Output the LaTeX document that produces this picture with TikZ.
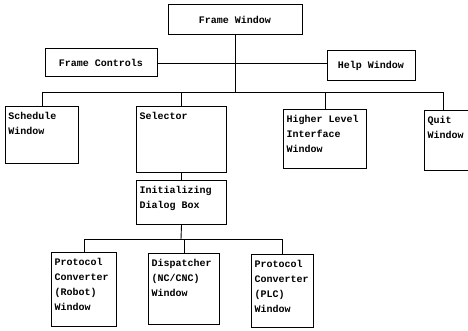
\documentclass[tikz,border=0pt]{standalone}
\usepackage{fontspec}
\setmonofont{Liberation Mono}
\usetikzlibrary{arrows,shapes}
\newcommand{\winfont}{\ttfamily\bfseries\fontsize{10}{15}\selectfont}
\newcommand{\wintext}[3]{\parbox[c][#2pt][t]{#1pt}{\raggedright #3}}
\tikzstyle{win}=[draw,line width=1pt,anchor=north west,inner xsep=3pt,inner ysep=6pt,font=\winfont]
\tikzstyle{head}=[draw,line width=1pt,font=\winfont,minimum height=30pt]
\tikzstyle{link} = [draw,line width=0.9pt,-]

\begin{document}
\begin{tikzpicture}[x=1pt,y=-1pt]
    \useasboundingbox (0,0) rectangle (468,331);
    \clip (0,0) rectangle (468,331);
    % First we draw the top windows
    \node[head,minimum width=134pt] (frame) at (235,20) {Frame Window};
    \node[head,minimum width=112pt,minimum height=28pt] (ctrl) at (101,63) {Frame Controls};
    \node[head,minimum width=88pt] (help) at (371,66) {Help Window};
    % Then the windows below them
    \node[win] (sched) at (5,106) {\wintext{67}{45}{Schedule\\Window}};
    \node[win] (sel) at (136,106) {\wintext{84}{54}{Selector}};
    \node[win] (higher) at (283,109) {\wintext{77}{47}{Higher Level\\Interface\\Window}};
    \node[win] (quit) at (424,110) {\wintext{64}{48}{Quit\\Window}};
    \node[win] (init) at (136,180) {\wintext{84}{32}{Initializing\\Dialog Box}};
    \node[win] (robot) at (51,252) {\wintext{59}{62}{Protocol\\Converter\\(Robot)\\Window}};
    \node[win] (disp) at (148,253) {\wintext{65}{59}{Dispatcher\\(NC/CNC)\\Window}};
    \node[win] (plc) at (251,254) {\wintext{56}{61}{Protocol\\Converter\\(PLC)\\Window}};
    \coordinate (bus) at (235,92);
    \coordinate (lowbus) at (181,239);
    % Connect windows with lines
    \path[link] (frame.south) -- (bus);
    \path[link] (ctrl.east) -- (ctrl.east -| help.west);
    \foreach \dest in {sched, sel, higher}
        \path[link] (bus) -| (\dest.north);
    \path[link] (bus) -| ([xshift=19pt]quit.north west);
    \path[link] (sel.south) -- (init.north);
    \path[link] (init.south) -- (lowbus);
    \foreach \dest in {robot, disp, plc}
        \path[link] (lowbus) -| (\dest.north);
\end{tikzpicture}
\end{document}
